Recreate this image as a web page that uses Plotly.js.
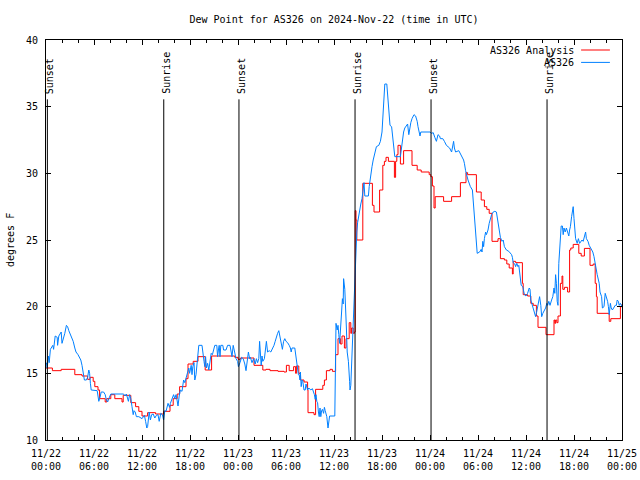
<!DOCTYPE html>
<html>
<head>
<meta charset="utf-8">
<script src="https://cdn.plot.ly/plotly-3.0.1.min.js"></script>
<style>html,body{margin:0;padding:0;background:#fff;}#chart{width:640px;height:480px;}</style>
</head>
<body>
<div id="chart"></div>
<script>
// Hours after 2024-11-22 00:00 UTC
const startUTC = Date.UTC(2024, 10, 22);

const seriesNames = ['AS326 Analysis', 'AS326'];
const seriesColors = ['#ff0000', '#0080ff'];

// AS326 Analysis (step values) [hour, dew point F]
const analysis = [
 [0.0,15.4],[0.8,15.2],[1.9,15.3],[3.6,14.9],[4.5,14.8],[5.2,14.55],[5.5,14.7],[5.9,14.4],[6.1,14.0],
 [6.5,13.75],[6.7,13.1],[7.4,12.85],[7.6,13.1],[8.1,13.4],[8.6,13.1],[9.5,12.85],[9.65,13.35],[10.6,12.8],
 [11.2,12.5],[11.6,12.15],[12.0,11.8],[12.7,12.05],[13.7,11.95],[14.7,12.15],[15.5,12.6],[15.9,13.1],
 [16.4,13.45],[16.7,14.0],[17.5,14.6],[17.75,15.7],[18.4,15.9],[19.0,16.25],[19.9,15.25],[20.7,16.3],
 [23.6,16.2],[24.0,16.05],[24.3,16.15],[26.0,15.6],[27.1,15.25],[27.5,15.3],[28.0,15.2],[29.0,15.15],
 [29.75,15.1],[30.05,15.6],[30.4,15.2],[30.95,15.5],[31.2,15.0],[31.3,15.55],[31.6,15.0],[31.8,14.5],
 [32.25,14.35],[32.7,13.75],[32.75,12.05],[33.5,11.9],[33.7,13.8],[34.6,14.1],[34.8,14.5],[35.05,15.2],
 [35.5,15.3],[35.8,15.15],[36.2,16.4],[36.5,17.6],[36.8,17.2],[37.0,17.8],[37.3,16.9],[37.5,17.6],
 [37.9,18.8],[38.1,18.0],[38.2,18.4],[38.4,18.0],[38.55,18.1],[38.65,27.2],[38.75,26.5],[38.85,25.0],
 [39.6,29.25],[40.8,27.6],[41.0,27.1],[41.7,28.75],[42.1,30.6],[42.3,30.9],[42.5,31.2],[42.8,30.9],
 [43.55,29.7],[43.7,30.9],[43.85,31.4],[44.0,32.1],[44.3,30.7],[44.7,31.7],[45.75,30.6],[46.4,30.25],
 [46.9,30.1],[47.9,29.9],[48.1,29.75],[48.3,29.05],[48.5,27.4],[48.65,28.25],[49.7,27.9],[50.7,28.25],
 [51.8,29.3],[52.5,30.05],[52.7,29.9],[53.8,28.6],[54.4,28.0],[54.8,27.5],[55.1,27.3],[55.4,27.0],
 [55.75,24.9],[56.5,25.1],[56.8,23.6],[57.3,23.5],[57.6,23.2],[57.9,22.9],[58.3,22.45],[58.4,23.4],
 [58.7,23.3],[59.55,21.75],[59.65,20.9],[60.2,20.8],[60.6,20.25],[60.9,20.1],[61.3,19.3],[61.5,18.45],
 [62.5,17.9],[63.5,19.0],[63.6,18.75],[63.7,19.0],[63.85,18.8],[64.0,19.3],[64.3,21.75],[64.5,22.3],
 [64.6,21.3],[64.8,21.45],[65.2,21.1],[65.45,24.25],[65.6,24.4],[65.9,24.67],[66.6,24.0],[66.9,23.8],
 [67.3,24.37],[68.0,23.1],[68.4,23.2],[68.65,21.75],[68.8,20.75],[68.9,19.5],[70.4,18.9],[70.6,19.1],
 [71.8,20.0],[72.0,20.2]
];

// AS326 observations [hour, dew point F]
const observed = [
 [0.05,15.8],[0.15,15.4],[0.3,16.3],[0.4,15.8],[0.55,16.8],[0.85,17.1],[0.95,16.8],[1.15,17.8],[1.4,17.7],
 [1.45,17.1],[1.6,17.8],[1.75,18.0],[1.9,18.1],[2.0,17.25],[2.2,17.6],[2.35,18.0],[2.55,18.6],[2.7,18.5],
 [2.85,18.2],[3.0,18.0],[3.2,17.7],[3.4,17.4],[3.6,16.9],[3.75,16.6],[4.0,16.4],[4.2,16.2],[4.35,16.0],
 [4.5,15.6],[4.6,15.25],[4.7,14.9],[4.8,14.5],[5.05,14.5],[5.2,14.7],[5.35,15.25],[5.45,15.0],[5.55,14.25],
 [5.65,13.75],[6.4,13.7],[6.5,13.25],[6.6,12.9],[6.75,13.2],[6.9,13.6],[7.2,13.6],[7.4,13.4],[7.55,13.0],
 [7.7,12.85],[7.85,13.1],[8.0,13.35],[8.1,13.45],[9.7,13.45],[9.85,13.3],[10.05,13.45],[10.2,13.1],
 [10.3,12.9],[10.45,13.4],[10.6,13.1],[10.75,12.5],[10.9,11.9],[11.0,12.2],[11.15,12.1],[11.3,11.75],
 [11.6,11.75],[12.0,11.6],[12.2,11.75],[12.3,11.85],[12.45,11.4],[12.6,10.9],[12.7,11.0],[12.8,11.6],
 [12.9,12.1],[13.05,11.5],[13.2,11.9],[13.4,11.95],[13.6,11.65],[13.8,11.85],[14.0,11.9],[14.15,11.4],
 [14.35,12.0],[14.55,11.9],[14.7,11.5],[14.85,12.2],[15.0,12.15],[15.25,12.75],[15.45,12.45],[15.55,12.75],
 [15.75,13.1],[15.95,13.4],[16.1,13.1],[16.25,13.4],[16.35,13.1],[16.5,12.55],[16.65,13.3],[16.8,13.75],
 [17.0,13.65],[17.2,14.5],[17.35,14.3],[17.5,14.6],[17.75,15.25],[17.85,15.4],[17.95,15.0],[18.05,15.25],
 [18.15,15.6],[18.25,14.9],[18.35,15.5],[18.5,15.8],[18.6,14.5],[18.75,14.9],[18.85,15.5],[19.0,16.1],
 [19.1,17.1],[19.5,17.1],[19.6,16.75],[19.75,15.9],[19.85,15.5],[19.95,16.25],[20.05,15.4],[20.2,15.75],
 [20.35,15.25],[20.5,16.1],[20.65,16.5],[20.8,16.4],[20.95,16.85],[21.1,17.1],[21.35,17.1],[21.45,16.25],
 [21.55,16.75],[21.65,17.1],[21.75,16.25],[21.85,17.1],[22.1,17.1],[22.2,16.75],[22.5,16.75],[22.7,17.1],
 [23.0,17.1],[23.1,16.75],[23.25,16.25],[23.4,17.1],[23.55,16.75],[23.75,16.1],[23.95,15.9],[24.05,15.5],
 [24.25,15.8],[24.45,16.2],[24.65,16.1],[24.85,15.7],[25.0,15.2],[25.15,16.2],[25.3,16.6],[25.45,16.1],
 [25.55,16.2],[25.75,15.8],[25.95,16.1],[26.15,15.7],[26.3,16.1],[26.45,15.8],[26.6,16.1],[26.7,17.4],
 [26.8,16.4],[26.9,15.6],[27.0,16.3],[27.1,15.9],[27.3,16.1],[27.45,16.8],[27.55,17.4],[27.7,16.6],
 [27.9,16.7],[28.1,16.6],[28.3,16.8],[28.5,17.1],[28.65,17.4],[28.8,17.8],[28.95,18.0],[29.1,18.2],
 [29.25,17.8],[29.45,17.2],[29.55,16.8],[29.7,17.4],[29.85,17.6],[30.0,17.4],[30.2,17.3],[30.4,17.1],
 [30.55,16.9],[30.65,16.6],[30.75,16.9],[31.1,16.9],[31.2,16.4],[31.35,15.9],[31.45,15.6],[31.55,14.9],
 [31.65,14.9],[31.75,14.5],[31.8,15.1],[31.9,14.0],[32.0,14.5],[32.1,14.4],[32.25,13.75],[32.4,13.75],
 [32.5,14.2],[32.6,14.0],[32.7,13.75],[32.85,13.9],[33.1,13.75],[33.3,13.85],[33.45,13.6],[33.55,13.4],
 [33.65,13.05],[33.75,13.4],[33.85,12.9],[33.95,12.8],[34.05,12.1],[34.15,11.75],[34.25,12.4],[34.35,11.75],
 [34.45,12.2],[34.55,12.3],[34.7,12.0],[34.8,12.45],[34.9,12.2],[35.0,11.9],[35.1,11.75],[35.25,10.9],
 [35.35,11.4],[35.45,11.8],[36.1,11.8],[36.15,15.1],[36.25,18.75],[36.4,18.25],[36.5,18.6],[36.6,17.9],
 [36.7,17.25],[36.95,19.6],[37.05,20.6],[37.15,20.2],[37.2,22.1],[37.35,21.3],[37.45,20.2],[37.55,18.4],
 [37.65,16.6],[37.8,15.9],[37.95,14.4],[38.0,13.75],[38.1,14.1],[38.15,14.9],[38.2,16.6],[38.3,18.25],
 [38.4,19.0],[38.5,20.5],[38.6,22.2],[38.7,23.9],[38.85,25.6],[38.95,26.3],[39.1,26.9],[39.2,27.4],
 [39.35,27.7],[39.5,28.1],[39.6,28.6],[39.75,29.3],[39.85,28.3],[40.3,28.3],[40.4,29.0],[40.5,29.5],
 [40.6,30.0],[40.75,30.5],[40.9,31.0],[41.1,31.5],[41.3,32.0],[41.6,32.1],[41.8,32.4],[42.0,33.1],
 [42.1,34.0],[42.25,35.5],[42.35,36.7],[42.6,36.7],[42.7,36.0],[42.8,35.0],[42.9,34.4],[43.0,33.6],
 [43.2,33.5],[43.35,32.8],[43.5,32.1],[43.6,31.25],[44.3,31.25],[44.45,32.0],[44.55,32.5],[44.7,33.1],
 [44.85,33.4],[45.05,33.6],[45.2,33.7],[45.35,32.9],[45.5,33.5],[45.6,33.8],[45.75,34.1],[46.0,34.4],
 [46.2,34.3],[46.4,33.9],[46.5,33.5],[46.65,33.0],[46.75,32.8],[46.85,33.1],[48.0,33.1],[48.2,33.0],
 [48.4,33.05],[48.6,32.7],[48.8,32.4],[49.0,32.9],[49.2,32.8],[49.3,32.6],[49.6,32.6],[49.8,32.4],
 [50.05,32.1],[50.25,32.0],[50.45,31.9],[50.7,31.6],[50.85,32.1],[50.95,32.4],[51.05,31.9],[51.2,31.6],
 [51.6,31.7],[51.8,31.5],[52.05,31.25],[52.2,31.0],[52.3,30.75],[52.45,30.2],[52.75,29.5],[53.05,29.0],
 [53.3,28.75],[53.45,27.75],[53.6,26.75],[53.7,25.6],[53.9,24.0],[54.0,24.05],[54.2,24.1],[54.4,24.3],
 [54.5,24.1],[54.6,24.9],[54.7,24.5],[54.8,25.1],[54.95,25.6],[55.05,25.4],[55.25,25.75],[55.4,26.25],
 [55.55,26.6],[55.7,26.9],[55.9,27.1],[56.1,27.15],[56.3,27.1],[56.4,26.75],[56.5,26.4],[56.6,25.9],
 [56.7,25.5],[56.8,25.2],[57.0,24.9],[57.15,25.0],[57.3,24.5],[57.55,24.25],[57.85,24.15],[58.2,23.9],
 [58.3,23.7],[58.4,23.3],[58.6,23.2],[58.7,23.0],[58.85,23.25],[59.0,23.0],[59.1,23.1],[59.2,22.6],
 [59.3,22.1],[59.4,21.6],[59.6,21.5],[59.8,20.9],[60.0,20.8],[60.2,21.0],[60.4,21.4],[60.5,21.3],
 [60.6,20.5],[60.75,20.2],[60.9,20.0],[61.1,19.55],[61.2,19.25],[61.3,19.5],[61.4,19.9],[61.55,20.25],
 [61.7,20.75],[61.85,20.1],[61.96,19.25],[62.1,19.5],[62.3,19.75],[62.45,19.9],[62.6,20.25],[62.7,20.1],
 [62.85,20.4],[63.0,20.1],[63.2,20.5],[63.35,20.75],[63.5,21.4],[63.6,21.0],[63.7,22.4],[63.8,21.75],
 [63.9,20.4],[64.0,20.1],[64.1,23.25],[64.3,25.75],[64.4,26.05],[64.55,26.05],[64.65,25.4],[64.75,25.9],
 [64.9,25.6],[65.05,25.9],[65.2,25.5],[65.35,25.3],[65.45,25.75],[65.55,26.0],[65.7,26.75],[65.8,27.1],
 [65.9,27.5],[66.0,26.6],[66.1,25.5],[66.2,25.1],[66.4,24.75],[66.55,25.1],[66.7,24.75],[66.85,24.9],
 [67.0,25.0],[67.15,24.9],[67.3,25.4],[67.45,25.6],[67.55,25.1],[67.75,24.9],[67.9,24.6],[68.05,24.4],
 [68.2,24.25],[68.35,24.1],[68.5,23.75],[68.6,23.25],[68.75,22.9],[68.9,22.4],[69.05,21.9],[69.15,21.75],
 [69.25,21.1],[69.45,20.75],[69.55,19.9],[69.75,20.0],[69.9,21.0],[70.05,20.75],[70.2,20.4],[70.3,20.0],
 [70.4,19.4],[70.55,20.25],[70.65,19.9],[70.8,19.75],[71.0,20.0],[71.15,20.1],[71.3,20.1],[71.4,20.5],
 [71.55,20.4],[71.65,20.1],[71.8,20.25],[72.0,20.0]
];

// Sun events (hours after start) and their labels
const sunHours = [0.17, 14.72, 24.12, 38.63, 48.13, 62.63];
const sunLabels = ['Sunset', 'Sunrise', 'Sunset', 'Sunrise', 'Sunset', 'Sunrise'];

// X tick positions (hours) and labels
const tickHours = [0, 6, 12, 18, 24, 30, 36, 42, 48, 54, 60, 66, 72];
const tickLabels = ['11/22<br>00:00','11/22<br>06:00','11/22<br>12:00','11/22<br>18:00',
  '11/23<br>00:00','11/23<br>06:00','11/23<br>12:00','11/23<br>18:00',
  '11/24<br>00:00','11/24<br>06:00','11/24<br>12:00','11/24<br>18:00','11/25<br>00:00'];

const toTime = h => startUTC + h * 3600000;
const FONT = 'DejaVu Sans Mono, monospace';

const traces = [
  {x: analysis.map(p => toTime(p[0])), y: analysis.map(p => p[1]), name: seriesNames[0],
   type: 'scatter', mode: 'lines', line: {color: seriesColors[0], width: 1, shape: 'hv'}},
  {x: observed.map(p => toTime(p[0])), y: observed.map(p => p[1]), name: seriesNames[1],
   type: 'scatter', mode: 'lines', line: {color: seriesColors[1], width: 1}}
];

const shapes = sunHours.map(h => ({type: 'line', xref: 'x', yref: 'y', x0: toTime(h), x1: toTime(h),
  y0: 10, y1: 35.55, line: {color: '#000', width: 1}}));

const annotations = sunHours.map((h, i) => ({xref: 'x', yref: 'y', x: toTime(h), y: 35.8,
  text: sunLabels[i], textangle: -90, showarrow: false, xanchor: 'center', yanchor: 'bottom',
  xshift: 2, font: {family: FONT, size: 10, color: '#000'}}));

// Legend (gnuplot style: text right-aligned, sample line on the right)
const legendY = [0.975, 0.944];
seriesNames.forEach((n, i) => {
  annotations.push({xref: 'paper', yref: 'paper', x: 0.921, y: legendY[i], text: n, showarrow: false,
    xanchor: 'right', yanchor: 'middle', font: {family: FONT, size: 10, color: '#000'}});
  shapes.push({type: 'line', xref: 'paper', yref: 'paper', x0: 0.929, x1: 0.979, y0: legendY[i], y1: legendY[i],
    line: {color: seriesColors[i], width: 1}});
});

annotations.push({xref: 'paper', yref: 'paper', x: -0.0625, y: 0.5, text: 'degrees F', textangle: -90,
  showarrow: false, xanchor: 'center', yanchor: 'middle', font: {family: FONT, size: 10, color: '#000'}});

const layout = {
  width: 640, height: 480,
  margin: {l: 46, r: 18, t: 40, b: 40},
  paper_bgcolor: '#fff', plot_bgcolor: '#fff',
  showlegend: false,
  title: {text: 'Dew Point for AS326 on 2024-Nov-22 (time in UTC)', font: {family: FONT, size: 10, color: '#000'},
    x: 0.5, xref: 'paper', xanchor: 'center', y: 1 - 19 / 480, yref: 'container', yanchor: 'middle'},
  xaxis: {type: 'date', range: [toTime(0), toTime(72)], showgrid: false, zeroline: false,
    showline: true, linecolor: '#000', linewidth: 1, mirror: 'allticks',
    tickmode: 'array', tickvals: tickHours.map(toTime), ticktext: tickLabels,
    ticks: 'inside', ticklen: 5, tickcolor: '#000', tickwidth: 1, ticklabelstandoff: 4,
    tickfont: {family: FONT, size: 10, color: '#000'},
    minor: {tickmode: 'linear', tick0: toTime(0), dtick: 7200000, ticks: 'inside', ticklen: 3, tickcolor: '#000', showgrid: false},
    fixedrange: true},
  yaxis: {range: [10, 40], dtick: 5, tick0: 10, showgrid: false, zeroline: false,
    showline: true, linecolor: '#000', linewidth: 1, mirror: 'allticks',
    ticks: 'inside', ticklen: 5, tickcolor: '#000', tickwidth: 1, ticklabelstandoff: 5,
    tickfont: {family: FONT, size: 10, color: '#000'}, fixedrange: true},
  shapes: shapes,
  annotations: annotations
};

Plotly.newPlot('chart', traces, layout, {staticPlot: true, displayModeBar: false});
</script>
</body>
</html>
